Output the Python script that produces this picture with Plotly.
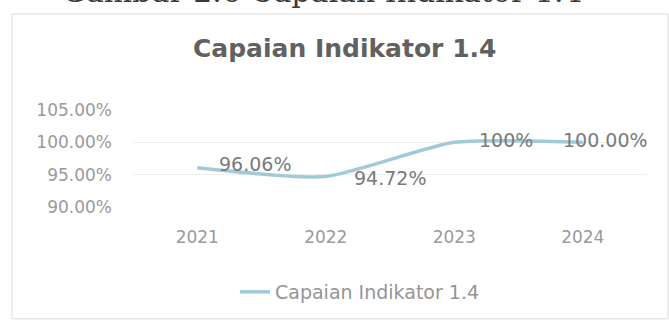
import plotly.graph_objects as go

# Chart data
years = ["2021", "2022", "2023", "2024"]
capaian = [96.06, 94.72, 100.0, 100.0]
point_labels = ["96.06%", "94.72%", "100%", "100.00%"]
y_ticks = [90, 95, 100, 105]
y_tick_text = ["90.00%", "95.00%", "100.00%", "105.00%"]

W, H = 669, 322
L, R, T, B = 133, 22, 110, 114
plot_w = W - L - R
plot_h = H - T - B

FONT = "DejaVu Sans, Verdana, sans-serif"


def px_x(px):
    return (px - L) / plot_w


def px_y(py):
    return 1 + (T - py) / plot_h


fig = go.Figure()
fig.add_trace(go.Scatter(
    x=list(range(len(years))), y=capaian, mode="lines", name="Capaian Indikator 1.4",
    line=dict(color="#a2c9d8", width=3.5, shape="spline", smoothing=0.6),
))

# Value labels beside each point (label offsets in pixels)
label_dx = [20, 26, 23, -22]
label_dy = [4, -2, 2, 2]
for i, (val, lab) in enumerate(zip(capaian, point_labels)):
    fig.add_annotation(
        x=i, y=val, text=lab, showarrow=False, xanchor="left", yanchor="middle",
        xshift=label_dx[i], yshift=label_dy[i],
        font=dict(family=FONT, size=19, color="#7a7a7a"),
    )

# Chart title
fig.add_annotation(
    xref="paper", yref="paper", x=px_x(344), y=px_y(48), text="<b>Capaian Indikator 1.4</b>",
    showarrow=False, xanchor="center", yanchor="middle",
    font=dict(family=FONT, size=25, color="#616161"),
)

# Document caption above the chart frame
fig.add_annotation(
    xref="paper", yref="paper", x=px_x(322), y=px_y(10), text="Gambar 2.6 Capaian Indikator 1.4",
    showarrow=False, xanchor="center", yanchor="bottom",
    font=dict(family="DejaVu Serif, serif", size=30, color="#3a3a3a"),
)

# Chart frame
fig.add_shape(
    type="rect", xref="paper", yref="paper",
    x0=px_x(12), x1=px_x(668), y0=px_y(321), y1=px_y(13),
    line=dict(color="#dcdcdc", width=1), layer="below",
)

fig.update_layout(
    width=W, height=H,
    margin=dict(l=L, r=R, t=T, b=B),
    paper_bgcolor="white", plot_bgcolor="white",
    showlegend=True,
    legend=dict(
        orientation="h", x=px_x(235), y=px_y(292), xanchor="left", yanchor="middle",
        font=dict(family=FONT, size=19, color="#959595"),
        bgcolor="rgba(0,0,0,0)",
    ),
    xaxis=dict(
        range=[-0.5, 3.5], tickvals=list(range(len(years))), ticktext=years,
        showgrid=False, zeroline=False, showline=False, ticks="", ticklabelstandoff=18,
        tickfont=dict(family=FONT, size=17, color="#9a9a9a"),
    ),
    yaxis=dict(
        range=[90, 105], tickvals=y_ticks, ticktext=y_tick_text,
        showgrid=True, gridcolor="#eeeeee", gridwidth=1, zeroline=False,
        showline=False, ticks="", ticklabelstandoff=20,
        tickfont=dict(family=FONT, size=17, color="#9a9a9a"),
    ),
)

fig.write_html("out.html")
